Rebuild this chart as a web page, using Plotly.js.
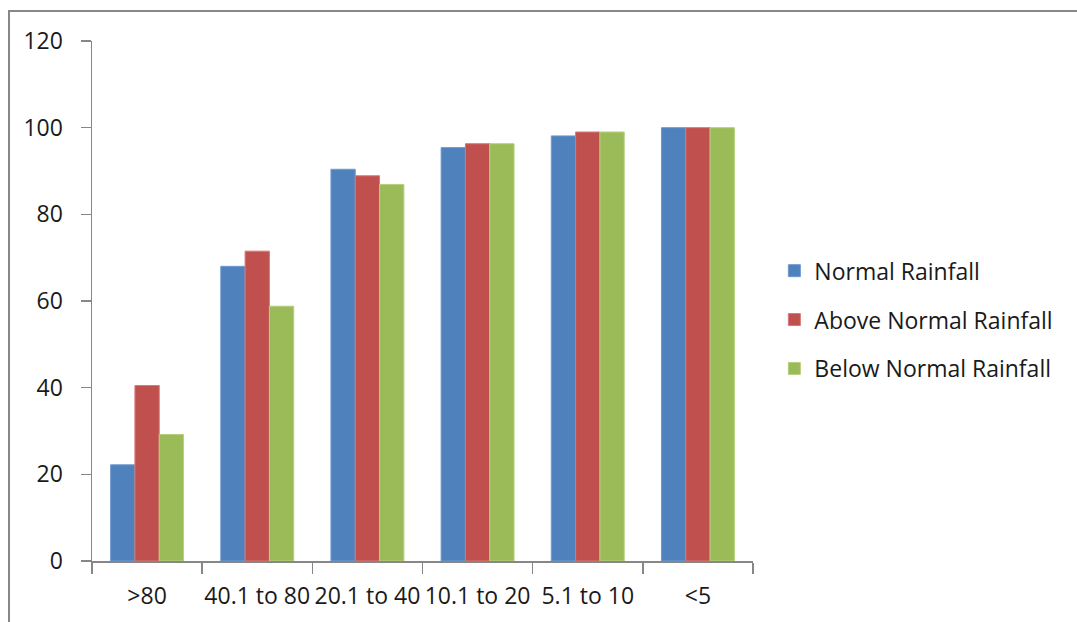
<!DOCTYPE html>
<html>
<head>
<meta charset="utf-8">
<script src="https://cdn.plot.ly/plotly-3.0.1.min.js"></script>
<style>
  html, body { margin: 0; padding: 0; background: #fff; }
  #wrap { position: relative; width: 1077px; height: 622px; overflow: hidden; }
  #chart { width: 1077px; height: 622px; }
  #frame { position: absolute; left: 8px; top: 10px; width: 1100px; height: 700px;
           border-left: 2px solid #878787; border-top: 2px solid #878787; pointer-events: none; }
</style>
</head>
<body>
<div id="wrap">
  <div id="chart"></div>
  <div id="frame"></div>
</div>
<script>
const categories = [">80", "40.1 to 80", "20.1 to 40", "10.1 to 20", "5.1 to 10", "<5"];
const normalRainfall = [22.2, 68.0, 90.4, 95.4, 98.1, 100];
const aboveNormalRainfall = [40.5, 71.5, 88.9, 96.3, 99.0, 100];
const belowNormalRainfall = [29.2, 58.8, 86.9, 96.3, 99.0, 100];
const seriesNames = ["Normal Rainfall", "Above Normal Rainfall", "Below Normal Rainfall"];
const seriesColors = ["#4f81bd", "#c0504d", "#9bbb59"];
const edgeColors = ["#6f9ad0", "#d47a77", "#b5d07e"];
const yTicks = [0, 20, 40, 60, 80, 100, 120];

const seriesValues = [normalRainfall, aboveNormalRainfall, belowNormalRainfall];
const font = "Open Sans, Liberation Sans, sans-serif";

const traces = seriesValues.map((vals, i) => ({
  type: "bar",
  x: categories,
  y: vals,
  name: seriesNames[i],
  legendgroup: "g" + i,
  marker: { color: seriesColors[i], line: { color: edgeColors[i], width: 1 } },
  hoverinfo: "x+y+name"
}));

const layout = {
  width: 1077,
  height: 622,
  margin: { l: 92, r: 324, t: 41, b: 61 },
  paper_bgcolor: "#ffffff",
  plot_bgcolor: "#ffffff",
  font: { family: font, size: 22, color: "#1a1a1a" },
  barmode: "group",
  bargap: 0.338,
  bargroupgap: 0,
  showlegend: true,
  legend: {
    xref: "container", yref: "container",
    x: 0.719, y: 0.486, xanchor: "left", yanchor: "middle",
    font: { family: font, size: 23, color: "#1a1a1a" },
    tracegroupgap: 16,
    bgcolor: "rgba(0,0,0,0)"
  },
  xaxis: {
    type: "category",
    showline: true, linecolor: "#878787", linewidth: 1.5,
    ticks: "outside", ticklen: 11, tickcolor: "#878787", tickwidth: 1.5,
    tickson: "boundaries",
    tickangle: 0,
    ticklabelstandoff: 14,
    showgrid: false, zeroline: false,
    tickfont: { family: font, size: 23, color: "#1a1a1a" }
  },
  yaxis: {
    range: [0, 120],
    tickvals: yTicks,
    ticktext: yTicks.map(String),
    showline: true, linecolor: "#878787", linewidth: 1.5,
    ticks: "outside", ticklen: 10, tickcolor: "#878787", tickwidth: 1.5,
    ticklabelstandoff: 13,
    showgrid: false, zeroline: false,
    tickfont: { family: font, size: 23, color: "#1a1a1a" }
  }
};

Plotly.newPlot("chart", traces, layout, { staticPlot: true, displayModeBar: false });
</script>
</body>
</html>
